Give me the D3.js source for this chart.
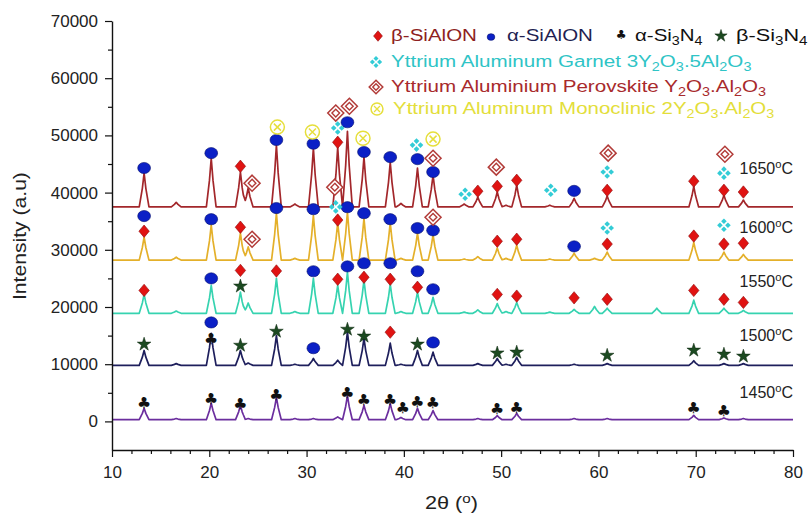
<!DOCTYPE html>
<html>
<head>
<meta charset="utf-8">
<script src="https://cdn.jsdelivr.net/npm/d3@7"></script>
<style>
  body { margin: 0; background: #fff; }
  svg { display: block; font-family: "Liberation Sans", Arial, sans-serif; }
</style>
</head>
<body>
<svg id="chart" width="808" height="513"></svg>
<script>
// ---- data ----
var samples = ["1450", "1500", "1550", "1600", "1650"];
var baselines = [300, 9800, 18900, 28200, 37500];

// peak positions (2theta) shared by all patterns
var twoTheta = [13.3, 16.6, 20.2, 23.2, 24.0, 26.9, 28.8, 30.7, 33.2, 34.2, 35.9, 38.6, 39.7, 41.4,
                43.0, 46.2, 47.6, 49.6, 50.5, 51.6, 55.0, 57.5, 59.6, 60.9, 66.0, 69.8, 72.9, 74.9];
// peak heights above each baseline
var h1450 = [2000, 200, 2900, 2500, 200, 3900, 200, 200, 500, 4200, 2500, 2800, 400, 2000,
             1600, 0, 200, 700, 0, 1100, 0, 200, 0, 200, 0, 750, 300, 200];
var h1500 = [2600, 300, 5600, 2600, 400, 5200, 200, 1200, 900, 5800, 4700, 3900, 200, 2600,
             2300, 0, 300, 1200, 200, 1400, 0, 200, 0, 300, 0, 800, 300, 300];
var h1550 = [3300, 400, 4900, 3700, 1800, 6100, 300, 6100, 4900, 7200, 5800, 5100, 300, 3700,
             2800, 200, 600, 1700, 300, 1900, 200, 700, 1200, 900, 900, 2300, 900, 500];
var h1600 = [4000, 500, 6100, 4700, 2300, 8200, 300, 7800, 6500, 8400, 7300, 6500, 300, 4700,
             4400, 200, 600, 2100, 300, 2600, 200, 1200, 300, 1400, 0, 3100, 1400, 1000];
var h1650 = [5900, 800, 8500, 6100, 3300, 10800, 500, 10300, 10400, 13200, 8700, 7800, 600, 6800,
             5550, 500, 1700, 2600, 300, 3800, 300, 1500, 0, 1900, 0, 3600, 2050, 1200];
var heights = [h1450, h1500, h1550, h1600, h1650];

// phase markers: [2theta, intensity]
var betaSiAlON = [[23.2, 44600], [33.2, 48800], [47.6, 40250], [49.6, 41100], [51.6, 42150], [60.9, 40400],
  [69.8, 42000], [72.9, 40400], [74.9, 40100],
  [13.3, 33250], [23.2, 33950], [33.2, 35200], [49.6, 31500], [51.6, 31850], [60.9, 31000], [69.8, 32400],
  [72.9, 31000], [74.9, 31150],
  [13.3, 22900], [23.2, 26400], [26.9, 26300], [33.2, 24850], [35.9, 25200], [38.6, 24850], [41.4, 23450],
  [49.6, 22200], [51.6, 21900], [57.5, 21600], [60.9, 21350], [69.8, 22900], [72.9, 21350], [74.9, 20800],
  [38.6, 15600]];
var alphaSiAlON = [[13.3, 44300], [20.2, 46900], [26.9, 49200], [30.7, 48550], [34.2, 52300], [35.9, 47100],
  [38.6, 46200], [41.4, 45850], [43.0, 43600], [57.5, 40300],
  [13.3, 35900], [20.2, 35350], [26.9, 37300], [30.7, 37100], [34.2, 37450], [35.9, 36400], [38.6, 35350],
  [41.4, 33800], [43.0, 33400], [57.5, 30600],
  [20.2, 25000], [30.7, 26250], [34.2, 27100], [35.9, 27650], [38.6, 27650], [41.4, 26250], [43.0, 23100],
  [20.2, 17300], [30.7, 12800], [43.0, 13800]];
var alphaSi3N4 = [[20.2, 14500],
  [13.3, 3300], [20.2, 4000], [23.2, 3150], [26.9, 4700], [34.2, 5050], [35.9, 3850], [38.6, 3850],
  [39.9, 2450], [41.4, 3500], [43.0, 3300], [49.6, 2300], [51.6, 2450], [69.8, 2450], [72.9, 1900]];
var betaSi3N4 = [[23.2, 23800],
  [13.3, 13650], [23.2, 13450], [26.9, 15900], [34.2, 16250], [35.9, 15050], [41.4, 13650], [49.6, 12100],
  [51.6, 12250], [60.9, 11700], [69.8, 12600], [72.9, 11900], [74.9, 11550]];
var garnet = [[33.2, 51300], [33.0, 37500], [41.3, 48300], [46.3, 39700], [55.1, 40400], [60.9, 43600],
  [72.9, 43400], [60.9, 33800], [72.9, 34300]];
var perovskite = [[24.4, 41650], [24.4, 31850], [33.0, 53900], [32.9, 40950], [34.4, 55100], [43.0, 46000],
  [43.0, 35700], [49.5, 44450], [61.0, 46900], [73.0, 46700]];
var monoclinic = [[27.0, 51450], [30.6, 50600], [35.8, 49500], [43.0, 49350]];

var xTicks = d3.range(10, 81, 10);
var yTicks = d3.range(0, 70001, 10000);

// ---- styles ----
var lineColors = ["#6b2e9e", "#1e1f5c", "#36d3b0", "#e4b02a", "#a3272b"];
var labelBaseY = [398, 341, 287, 233, 174];

var svg = d3.select("#chart");
var x = d3.scaleLinear().domain([10, 80]).range([112, 793]);
var y = d3.scaleLinear().domain([-5000, 70000]).range([450, 21]);

// peak profile (offset in degrees, fraction of height)
var profOff = [-0.5, -0.18, 0, 0.18, 0.5];
var profFrac = [0, 0.55, 1, 0.55, 0];
var profile = d3.scaleLinear().domain(profOff).range(profFrac).clamp(true);

var buildPattern = function(base, h) {
  // sum of piecewise linear peaks, evaluated at every breakpoint
  var xs = [10, 80];
  twoTheta.forEach(function(p, i) {
    if (h[i] > 0) profOff.forEach(function(o) { xs.push(p + o); });
  });
  xs = Array.from(new Set(xs)).sort(function(a, b) { return a - b; });
  return xs.map(function(t) {
    var v = base;
    twoTheta.forEach(function(p, i) {
      if (h[i] > 0 && Math.abs(t - p) < 0.5) v += h[i] * profile(t - p);
    });
    return [t, v];
  });
};

var line = d3.line().x(function(d) { return x(d[0]); }).y(function(d) { return y(d[1]); });

svg.append("g").selectAll("path")
  .data(samples)
  .join("path")
  .attr("d", function(d, i) { return line(buildPattern(baselines[i], heights[i])); })
  .attr("fill", "none")
  .attr("stroke", function(d, i) { return lineColors[i]; })
  .attr("stroke-width", 1.7)
  .attr("stroke-linejoin", "round");

// ---- axes ----
var styleAxis = function(g) {
  g.select(".domain").attr("stroke", "#111").attr("stroke-width", 1.4);
  g.selectAll(".tick line").attr("stroke", "#111").attr("stroke-width", 1.2);
  g.selectAll(".tick text").attr("fill", "#222").attr("font-size", 17)
    .attr("font-family", "Liberation Sans, Arial, sans-serif");
};

svg.append("g").attr("transform", "translate(0,450)")
  .call(d3.axisBottom(x).tickValues(d3.range(12, 80, 2).filter(function(v) { return v % 10; }))
    .tickSize(4).tickFormat(""))
  .call(styleAxis).select(".domain").remove();
svg.append("g").attr("transform", "translate(0,450)")
  .call(d3.axisBottom(x).tickValues(xTicks).tickSize(7).tickPadding(9).tickSizeOuter(0))
  .call(styleAxis);

svg.append("g").attr("transform", "translate(112,0)")
  .call(d3.axisLeft(y).tickValues(d3.range(5000, 70000, 10000)).tickSize(4).tickFormat(""))
  .call(styleAxis).select(".domain").remove();
svg.append("g").attr("transform", "translate(112,0)")
  .call(d3.axisLeft(y).tickValues(yTicks).tickSize(7).tickPadding(7).tickSizeOuter(0).tickFormat(d3.format("d")))
  .call(styleAxis);

// rich text helper: parts = [[text, "sub"|"sup"|null], ...]
var richText = function(t, parts) {
  var shift = 0;
  parts.forEach(function(p) {
    var want = p[1] === "sub" ? 4 : (p[1] === "sup" ? -6 : 0);
    var ts = t.append("tspan").text(p[0]).attr("dy", want - shift);
    if (p[1]) ts.attr("font-size", "70%");
    shift = want;
  });
  return t;
};

// text squeezed / stretched to the width seen in the picture
var fitText = function(px, py, width, parts, size, color) {
  var g = svg.append("g");
  var t = richText(g.append("text").attr("font-size", size).attr("fill", color), parts);
  var w = t.node().getBBox().width;
  g.attr("transform", "translate(" + px + "," + py + ") scale(" + (width / w) + ",1)");
  return g;
};

// axis titles
fitText(425, 509, 53, [["2θ ("], ["o", "sup"], [")"]], 18, "#222");
var yl = svg.append("g").attr("transform", "translate(26,300) rotate(-90)");
var ylt = yl.append("text").attr("font-size", 19).attr("fill", "#222").text("Intensity (a.u)");
yl.attr("transform", "translate(26,300) rotate(-90) scale(" + (128 / ylt.node().getBBox().width) + ",1)");

// temperature labels
samples.forEach(function(s, i) {
  richText(svg.append("text").attr("x", 793).attr("y", labelBaseY[i]).attr("text-anchor", "end")
    .attr("font-size", 16).attr("fill", "#222"), [[s], ["o", "sup"], ["C"]]);
});

// ---- marker symbols ----
var diamondPath = function(h, w) { return "M0," + (-h) + "L" + w + ",0L0," + h + "L" + (-w) + ",0Z"; };
var makers = {
  diamond: function(g, k) {
    g.append("path").attr("d", diamondPath(6.2 * k, 5.2 * k))
      .attr("fill", "#e01312").attr("stroke", "#8f0c0c").attr("stroke-width", 0.6);
  },
  circle: function(g, k) {
    g.append("ellipse").attr("rx", 6.4 * k).attr("ry", 5.6 * k)
      .attr("fill", "#0b20c6").attr("stroke", "#06106e").attr("stroke-width", 0.6);
  },
  club: function(g, k) {
    g.append("text").text("♣").attr("font-family", "DejaVu Sans").attr("font-size", 15.5 * k)
      .attr("text-anchor", "middle").attr("dy", "0.36em").attr("fill", "#111");
  },
  star: function(g, k) {
    g.append("path").attr("d", d3.symbol(d3.symbolStar, 58 * k * k)())
      .attr("transform", "translate(0," + (1 * k) + ")")
      .attr("fill", "#1c4a21").attr("stroke", "#0a240d").attr("stroke-width", 0.5);
  },
  garnet: function(g, k) {
    [[0, -4], [4, 0], [0, 4], [-4, 0]].forEach(function(o) {
      g.append("path").attr("d", diamondPath(2.8 * k, 2.8 * k))
        .attr("transform", "translate(" + o[0] * k + "," + o[1] * k + ")").attr("fill", "#33ccd6");
    });
  },
  perovskite: function(g, k) {
    g.append("path").attr("d", diamondPath(8 * k, 8 * k))
      .attr("fill", "#fff").attr("stroke", "#b23b38").attr("stroke-width", 1.5);
    g.append("path").attr("d", diamondPath(3.8 * k, 3.8 * k))
      .attr("fill", "none").attr("stroke", "#b23b38").attr("stroke-width", 1.4);
  },
  monoclinic: function(g, k) {
    g.append("circle").attr("r", 7 * k).attr("fill", "#fff").attr("stroke", "#e6df3c").attr("stroke-width", 1.5);
    g.append("path").attr("d", "M-3.5,-3.5L3.5,3.5M-3.5,3.5L3.5,-3.5").attr("transform", "scale(" + k + ")")
      .attr("stroke", "#e6df3c").attr("stroke-width", 1.5);
  }
};

var drawMarkers = function(data, kind) {
  svg.append("g").selectAll("g")
    .data(data)
    .join("g")
    .attr("transform", function(d) { return "translate(" + x(d[0]) + "," + y(d[1]) + ")"; })
    .each(function() { makers[kind](d3.select(this), 1); });
};
drawMarkers(betaSiAlON, "diamond");
drawMarkers(alphaSiAlON, "circle");
drawMarkers(alphaSi3N4, "club");
drawMarkers(betaSi3N4, "star");
drawMarkers(garnet, "garnet");
drawMarkers(perovskite, "perovskite");
drawMarkers(monoclinic, "monoclinic");

// ---- legend ----
var legendSym = function(kind, px, py, k) {
  makers[kind](svg.append("g").attr("transform", "translate(" + px + "," + py + ")"), k);
};
legendSym("diamond", 378, 36, 0.85);
fitText(391, 41, 86, [["β-SiAlON"]], 17, "#8e1f22");
legendSym("circle", 491, 37, 0.6);
fitText(507, 41, 86, [["α-SiAlON"]], 17, "#1f1f52");
legendSym("club", 621, 35, 0.8);
fitText(635, 41, 68, [["α-Si"], ["3", "sub"], ["N"], ["4", "sub"]], 17, "#111");
legendSym("star", 721, 35, 0.9);
fitText(736, 41, 72, [["β-Si"], ["3", "sub"], ["N"], ["4", "sub"]], 17, "#111");

legendSym("garnet", 376, 62, 0.9);
fitText(391, 67, 361, [["Yttrium Aluminum Garnet 3Y"], ["2", "sub"], ["O"], ["3", "sub"], [".5Al"], ["2", "sub"],
  ["O"], ["3", "sub"]], 17, "#2fc4c6");
legendSym("perovskite", 376, 87, 0.85);
fitText(391, 92, 376, [["Yttrium Aluminium Perovskite Y"], ["2", "sub"], ["O"], ["3", "sub"], [".Al"], ["2", "sub"],
  ["O"], ["3", "sub"]], 17, "#a82a2c");
legendSym("monoclinic", 377, 109, 0.85);
fitText(393, 114, 382, [["Yttrium Aluminum Monoclinic 2Y"], ["2", "sub"], ["O"], ["3", "sub"], [".Al"], ["2", "sub"],
  ["O"], ["3", "sub"]], 17, "#e3de3a");
</script>
</body>
</html>
